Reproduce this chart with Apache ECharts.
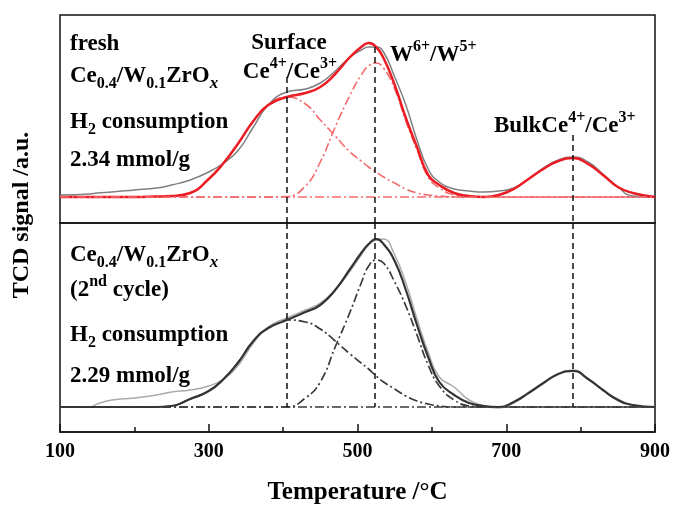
<!DOCTYPE html>
<html>
<head>
<meta charset="utf-8">
<script src="https://cdn.jsdelivr.net/npm/echarts@6/dist/echarts.min.js"></script>
<style>html,body{margin:0;padding:0;background:#fff}#c{width:675px;height:505px}</style>
</head>
<body>
<div id="c"></div>
<script>
// ---------- data ----------
const temps = [100,140,150,170,200,230,250,275,300,320,340,360,380,405,430,450,470,490,505,515,525,535,550,565,580,595,610,630,650,670,690,710,730,750,770,790,810,830,850,870,900];

// fresh sample (top panel)
const freshFit      = [0,0,0,0,0,0.5,1,4,18,34,54,76,92,100,104,110,123,140,150,154,150,139,112,79,50,22,12,4,1,0,2,8,18,28,36,39,33,22,10,4,0];
const freshMeasured = [2,3,4,5,7,9,12,17,25,34,47,70,92,105,108,114,126,140,147,150,150,145,120,92,57,28,15,8,6,5,6,9,18,29,37,40,35,23,10,1,0];
const freshSurface  = [0,0,0,0,0,0.5,1,4,18,34,54,76,92,100,93,77,61,45,36,30,25,20,14,8,4,2,1,0,0,0,0,0,0,0,0,0,0,0,0,0,0];
const freshW        = [0,0,0,0,0,0,0,0,0,0,0,0,0,0.5,11,35,70,102,122,131,134,129,108,76,47,20,9,2,0,0,0,0,0,0,0,0,0,0,0,0,0];

// 2nd cycle (bottom panel)
const cycleFit      = [0,0,0,0,0,0,1,8,16,28,45,66,79,87,95,102,117,138,154,163,168,163,146,117,82,50,25,12,4,1,0,5,14,24,33,36,28,17,7,2,0];
const cycleMeasured = [0,0,3,7,9,12,15,17,21,28,42,64,80,89,97,104,117,136,152,162,167,168,152,124,88,55,30,20,7,1,-1,4,14,24,33,37,28,17,8,2,0];
const cycleSurface  = [0,0,0,0,0,0,1,8,16,28,45,66,79,87,85,78,66,53,44,38,31,25,18,11,6,3,1,0,0,0,0,0,0,0,0,0,0,0,0,0,0];
const cycleW        = [0,0,0,0,0,0,0,0,0,0,0,0,0,0,9,25,60,95,124,141,147,144,125,101,72,42,21,7,1,0,0,0,0,0,0,0,0,0,0,0,0];

// peak marker lines: temperature, and where each line starts in the top panel (signal units)
const markerTemps  = [405, 523, 789];
const markerTopStarts = [120, 150, 62];

const xTicks = [100, 300, 500, 700, 900];

// ---------- build ----------
const pair = arr => temps.map((t, i) => [t, arr[i]]);
const SERIF = '"Liberation Serif", "DejaVu Serif", serif';
const dashDot = [9, 3, 2, 3];
const SM = 0.5;

const chart = echarts.init(document.getElementById('c'), null, {renderer: 'canvas'});

function mainRich(size) {
  const s = Math.round(size * 0.68);
  return {
    m:   {fontFamily: SERIF, fontWeight: 'bold', fontSize: size, lineHeight: 32, verticalAlign: 'middle', fill: '#000'},
    sub: {fontFamily: SERIF, fontWeight: 'bold', fontSize: s, lineHeight: 15, verticalAlign: 'bottom', fill: '#000'},
    subi:{fontFamily: SERIF, fontWeight: 'bold', fontStyle: 'italic', fontSize: Math.round(size * 0.72), lineHeight: 15, verticalAlign: 'bottom', fill: '#000'},
    sup: {fontFamily: SERIF, fontWeight: 'bold', fontSize: s, lineHeight: 15, verticalAlign: 'top', fill: '#000'}
  };
}
function label(x, y, text, align, size) {
  size = size || 23;
  return {
    type: 'text', x: x, y: y, z: 100,
    style: {
      text: text, rich: mainRich(size), fill: '#000',
      font: 'bold ' + size + 'px ' + SERIF,
      textAlign: align || 'left', textVerticalAlign: 'middle'
    }
  };
}

const vMarksTop = markerTemps.map((t, i) => [
  {coord: [t, markerTopStarts[i]]}, {coord: [t, -26]}
]);
const vMarksBottom = markerTemps.map(t => [
  {coord: [t, 184]}, {coord: [t, 0]}
]);

const option = {
  animation: false,
  backgroundColor: '#fff',
  grid: [
    {left: 60, right: 20, top: 15, height: 208, show: true, borderColor: '#111', borderWidth: 1.5, outerBoundsMode: 'none', containLabel: false},
    {left: 60, right: 20, top: 223, height: 209, show: true, borderColor: '#111', borderWidth: 1.5, outerBoundsMode: 'none', containLabel: false}
  ],
  xAxis: [
    {gridIndex: 0, type: 'value', min: 100, max: 900, interval: 200,
     axisLine: {show: false}, axisTick: {show: false}, axisLabel: {show: false}, splitLine: {show: false}},
    {gridIndex: 1, type: 'value', min: 100, max: 900, interval: 200,
     axisLine: {show: true, onZero: false, lineStyle: {color: '#111', width: 1.5}},
     axisTick: {show: true, inside: true, length: 8, lineStyle: {color: '#111', width: 1.5}},
     minorTick: {show: true, splitNumber: 2, length: 5, lineStyle: {color: '#111', width: 1.5}},
     splitLine: {show: false},
     axisLabel: {show: true, margin: 10, fontFamily: SERIF, fontWeight: 'bold', fontSize: 20, color: '#000',
                 formatter: v => xTicks.indexOf(v) >= 0 ? String(v) : ''},
     name: 'Temperature /\u00B0C', nameLocation: 'middle', nameGap: 48,
     nameTextStyle: {fontFamily: SERIF, fontWeight: 'bold', fontSize: 25, color: '#000'}}
  ],
  yAxis: [
    {gridIndex: 0, type: 'value', min: -26, max: 182, show: false, splitLine: {show: false}},
    {gridIndex: 1, type: 'value', min: -25, max: 184, show: false, splitLine: {show: false}}
  ],
  series: [
    // ---- top panel ----
    {type: 'line', xAxisIndex: 0, yAxisIndex: 0, data: pair(freshSurface), smooth: SM, symbol: 'none',
     lineStyle: {color: '#f36b6e', width: 1.6, type: dashDot},
     markLine: {silent: true, symbol: ['none', 'none'], label: {show: false},
                lineStyle: {color: '#f36b6e', width: 1.6, type: dashDot},
                data: [{yAxis: 0}]}},
    {type: 'line', xAxisIndex: 0, yAxisIndex: 0, data: pair(freshW), smooth: SM, symbol: 'none',
     lineStyle: {color: '#f36b6e', width: 1.6, type: dashDot}},
    {type: 'line', xAxisIndex: 0, yAxisIndex: 0, data: pair(freshMeasured), smooth: SM, symbol: 'none',
     lineStyle: {color: '#808080', width: 1.5}},
    {type: 'line', xAxisIndex: 0, yAxisIndex: 0, data: pair(freshFit), smooth: SM, symbol: 'none',
     lineStyle: {color: '#ec1c24', width: 2.5},
     markLine: {silent: true, symbol: ['none', 'none'], label: {show: false},
                lineStyle: {color: '#111', width: 1.5, type: [6, 4]},
                data: vMarksTop}},
    // ---- bottom panel ----
    {type: 'line', xAxisIndex: 1, yAxisIndex: 1, data: pair(cycleSurface), smooth: SM, symbol: 'none',
     lineStyle: {color: '#3a3a3a', width: 1.7, type: dashDot},
     markLine: {silent: true, symbol: ['none', 'none'], label: {show: false},
                lineStyle: {color: '#3a3a3a', width: 1.7, type: dashDot},
                data: [{yAxis: 0}]}},
    {type: 'line', xAxisIndex: 1, yAxisIndex: 1, data: pair(cycleW), smooth: SM, symbol: 'none',
     lineStyle: {color: '#3a3a3a', width: 1.7, type: dashDot}},
    {type: 'line', xAxisIndex: 1, yAxisIndex: 1, data: pair(cycleMeasured), smooth: SM, symbol: 'none',
     lineStyle: {color: '#ababab', width: 1.5}},
    {type: 'line', xAxisIndex: 1, yAxisIndex: 1, data: pair(cycleFit), smooth: SM, symbol: 'none',
     lineStyle: {color: '#333333', width: 2.2},
     markLine: {silent: true, symbol: ['none', 'none'], label: {show: false},
                lineStyle: {color: '#111', width: 1.5, type: [6, 4]},
                data: vMarksBottom}}
  ],
  graphic: [
    {type: 'text', x: 22, y: 215, rotation: Math.PI / 2, z: 100,
     style: {text: 'TCD signal /a.u.', font: 'bold 24px ' + SERIF, fill: '#000', textAlign: 'center', textVerticalAlign: 'middle'}},
    label(70, 44, '{m|fresh}'),
    label(70, 76, '{m|Ce}{sub|0.4}{m|/W}{sub|0.1}{m|ZrO}{subi|x}'),
    label(70, 122, '{m|H}{sub|2}{m| consumption}'),
    label(70, 160, '{m|2.34 mmol/g}'),
    label(289, 43, '{m|Surface}', 'center'),
    label(290, 72, '{m|Ce}{sup|4+}{m|/Ce}{sup|3+}', 'center'),
    label(390, 55, '{m|W}{sup|6+}{m|/W}{sup|5+}'),
    label(494, 126, '{m|BulkCe}{sup|4+}{m|/Ce}{sup|3+}'),
    label(70, 255, '{m|Ce}{sub|0.4}{m|/W}{sub|0.1}{m|ZrO}{subi|x}'),
    label(70, 290, '{m|(2}{sup|nd}{m| cycle)}'),
    label(70, 335, '{m|H}{sub|2}{m| consumption}'),
    label(70, 376, '{m|2.29 mmol/g}')
  ]
};
chart.setOption(option);
</script>
</body>
</html>
